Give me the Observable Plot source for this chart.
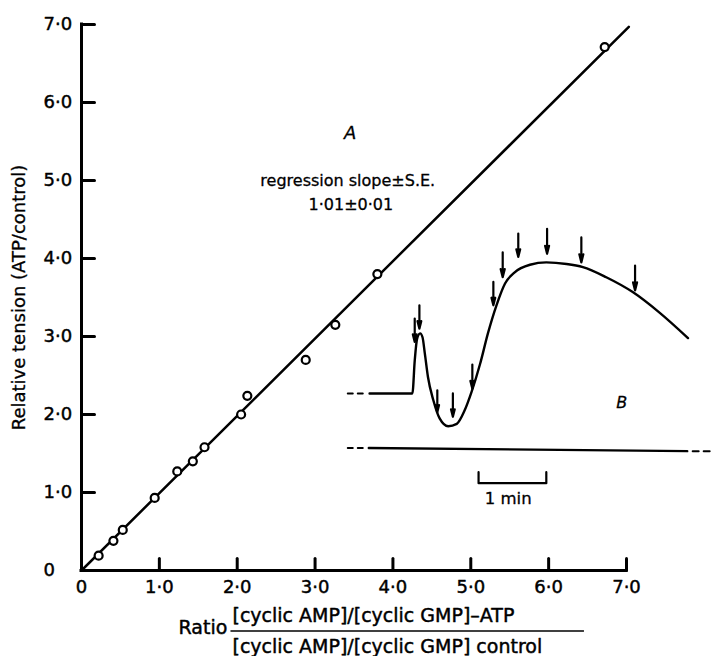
<!DOCTYPE html>
<html><head><meta charset="utf-8">
<script src="https://cdn.jsdelivr.net/npm/d3@7"></script>
<script src="https://cdn.jsdelivr.net/npm/@observablehq/plot@0.6"></script>
<style>
body{margin:0;background:#fff}
#chart svg{font-family:"DejaVu Sans",sans-serif;background:#fff}
</style></head><body><div id="chart"></div>
<script>
// ---- Panel A: measured points ----
const ratio   = [0.22, 0.41, 0.53, 0.94, 1.23, 1.43, 1.58, 2.05, 2.13, 2.88, 3.26, 3.80, 6.72];
const tension = [0.19, 0.38, 0.52, 0.93, 1.27, 1.40, 1.58, 2.00, 2.24, 2.70, 3.15, 3.80, 6.71];
// regression line end points
const regX = [0, 7.03];
const regY = [0, 6.97];
// axis ticks
const tickValues = [0, 1, 2, 3, 4, 5, 6, 7];
const tickLabels = ["0", "1·0", "2·0", "3·0", "4·0", "5·0", "6·0", "7·0"];

// ---- Panel B: tension trace (drawn in panel A units) ----
const traceX = [3.70, 4.25, 4.28, 4.31, 4.35, 4.38, 4.41, 4.45, 4.52, 4.60, 4.71, 4.82, 4.92, 5.01, 5.12, 5.22, 5.33, 5.44, 5.56, 5.76, 5.97, 6.23, 6.44, 6.74, 7.08, 7.42, 7.79];
const traceY = [2.27, 2.27, 2.69, 2.97, 3.04, 2.99, 2.78, 2.48, 2.18, 1.95, 1.85, 1.88, 2.05, 2.29, 2.65, 3.04, 3.40, 3.68, 3.82, 3.92, 3.95, 3.93, 3.89, 3.76, 3.57, 3.31, 2.98];
const traceLeadX = [3.42, 3.62];
const traceLeadY = [2.27, 2.27];
const zeroX = [3.69, 7.78];
const zeroY = [1.57, 1.53];
const zeroLeadX = [3.42, 3.62];
const zeroLeadY = [1.57, 1.57];
const zeroTailX = [7.85, 8.07];
const zeroTailY = [1.53, 1.53];
// arrows (stimulus marks): x, top, tip
const arrowX   = [4.28, 4.34, 4.57, 4.77, 5.02, 5.29, 5.41, 5.61, 5.98, 6.42, 7.11];
const arrowTop = [3.23, 3.40, 2.31, 2.27, 2.64, 3.70, 4.08, 4.32, 4.38, 4.27, 3.91];
const arrowTip = [2.93, 3.10, 2.03, 1.97, 2.33, 3.40, 3.76, 4.02, 4.06, 3.95, 3.59];
// 1 min scale bar
const barX = [5.10, 5.10, 5.97, 5.97];
const barY = [1.26, 1.12, 1.12, 1.26];

const points = ratio.map((x, i) => ({x, y: tension[i]}));
const reg = regX.map((x, i) => ({x, y: regY[i]}));
const zip = (xs, ys) => xs.map((x, i) => ({x, y: ys[i]}));
const arrows = arrowX.map((x, i) => ({x, top: arrowTop[i], tip: arrowTip[i]}));
const tickShape = {draw(context, l) { context.moveTo(0, 0); context.lineTo(0, -l); }};
const inner = tickValues.filter(d => d > 0);
const ink = {stroke: "black", strokeWidth: 0.45, fill: "black"};

const plot = Plot.plot({
  width: 717, height: 656,
  marginLeft: 81, marginRight: 91, marginTop: 24, marginBottom: 86,
  x: {domain: [0, 7], axis: null},
  y: {domain: [0, 7], axis: null},
  marks: [
    // axes
    Plot.ruleX([0], {y1: 0, y2: 7, strokeWidth: 3, strokeLinecap: "square"}),
    Plot.ruleY([0], {x1: 0, x2: 7, strokeWidth: 3, strokeLinecap: "square"}),
    Plot.vector(inner, {x: 0, y: d => d, length: 13, rotate: 90, anchor: "start", shape: tickShape, strokeWidth: 3}),
    Plot.vector(inner, {x: d => d, y: 0, length: 12, rotate: 0, anchor: "start", shape: tickShape, strokeWidth: 3}),
    Plot.text(tickValues, {x: 0, y: d => d, text: (d, i) => tickLabels[i], textAnchor: "start", dx: -38, fontSize: 18, ...ink}),
    Plot.text(tickValues, {x: d => d, y: 0, text: (d, i) => tickLabels[i], dy: 17, fontSize: 18, ...ink}),
    // axis titles
    Plot.text(["Relative tension (ATP/control)"], {frameAnchor: "left", dx: -62, rotate: -90, textAnchor: "middle", fontSize: 18, ...ink, strokeWidth: 0.3}),
    Plot.text(["Ratio"], {frameAnchor: "bottom-left", dx: 97, dy: 63.5, textAnchor: "start", fontSize: 19, ...ink}),
    Plot.text(["[cyclic AMP]/[cyclic GMP]–ATP"], {frameAnchor: "bottom-left", dx: 151, dy: 51, textAnchor: "start", lineAnchor: "bottom", fontSize: 19, ariaLabel: "xnum", ...ink}),
    Plot.text(["[cyclic AMP]/[cyclic GMP] control"], {frameAnchor: "bottom-left", dx: 151, dy: 82.5, textAnchor: "start", lineAnchor: "bottom", fontSize: 19, ariaLabel: "xden", ...ink}),
    Plot.ruleY([0], {x1: 1.92, x2: 6.46, dy: 60.5, strokeWidth: 1.6}),
    // regression + points
    Plot.line(reg, {x: "x", y: "y", strokeWidth: 2.5}),
    Plot.dot(points, {x: "x", y: "y", r: 4, stroke: "black", strokeWidth: 2.2, fill: "white"}),
    // annotations A
    Plot.text(["A"], {x: 3.45, y: 5.61, fontSize: 18, fontStyle: "italic", ...ink, strokeWidth: 0.3}),
    Plot.text(["regression slope±S.E."], {x: 3.42, y: 5.0, fontSize: 16, ariaLabel: "reg", ...ink, strokeWidth: 0.3}),
    Plot.text(["1·01±0·01"], {x: 3.46, y: 4.69, fontSize: 16, ariaLabel: "val", ...ink, strokeWidth: 0.3}),
    // Panel B
    Plot.line(zip(traceX, traceY), {x: "x", y: "y", curve: "monotone-x", strokeWidth: 2.4}),
    Plot.line(zip(traceLeadX, traceLeadY), {x: "x", y: "y", strokeWidth: 2, strokeDasharray: "5,5"}),
    Plot.line(zip(zeroX, zeroY), {x: "x", y: "y", strokeWidth: 2.4}),
    Plot.line(zip(zeroLeadX, zeroLeadY), {x: "x", y: "y", strokeWidth: 2, strokeDasharray: "5,5"}),
    Plot.line(zip(zeroTailX, zeroTailY), {x: "x", y: "y", strokeWidth: 2, strokeDasharray: "6,5"}),
    Plot.arrow(arrows, {x1: "x", x2: "x", y1: "top", y2: "tip", headLength: 7, headAngle: 28, strokeWidth: 2.2}),
    Plot.line(zip(barX, barY), {x: "x", y: "y", strokeWidth: 2.2}),
    Plot.text(["1 min"], {x: 5.48, y: 0.92, fontSize: 16.5, ...ink, strokeWidth: 0.3}),
    Plot.text(["B"], {x: 6.94, y: 2.15, fontSize: 16, fontStyle: "italic", ...ink, strokeWidth: 0.3})
  ]
});
const fit = (label, len) => plot.querySelectorAll(`g[aria-label="${label}"] text`).forEach(t => {
  t.setAttribute("textLength", len); t.setAttribute("lengthAdjust", "spacing");
});
fit("xnum", 340); fit("xden", 350); fit("reg", 190); fit("val", 92);
document.getElementById("chart").appendChild(plot);
</script>
</body></html>
